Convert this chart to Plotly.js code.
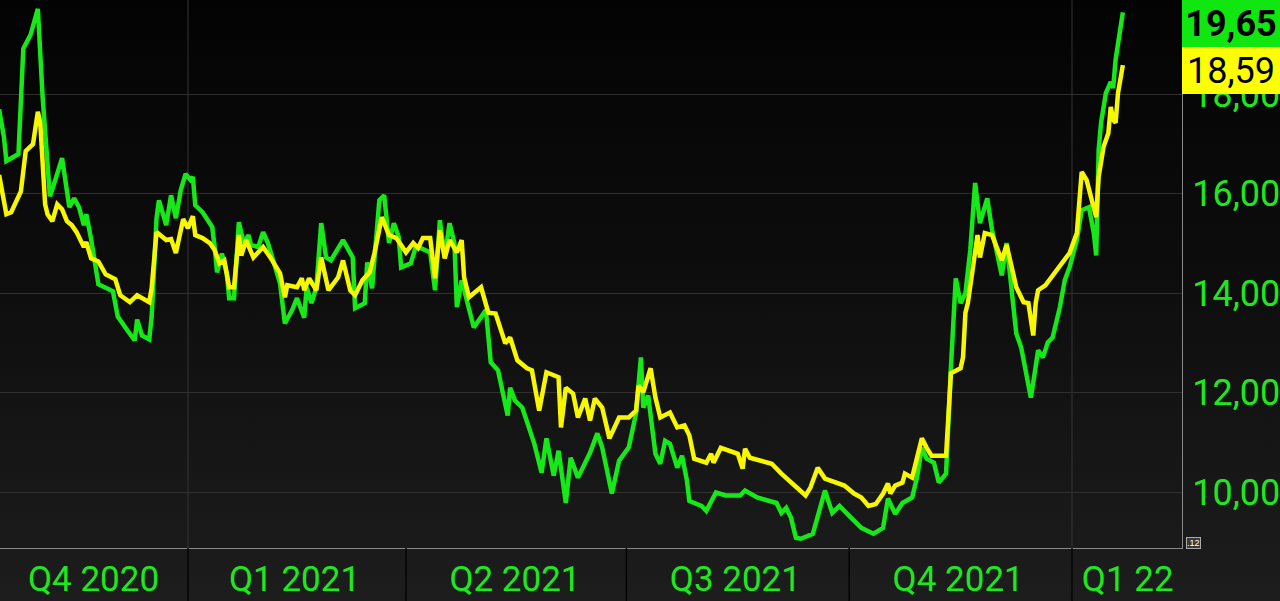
<!DOCTYPE html>
<html>
<head>
<meta charset="utf-8">
<script src="https://cdn.plot.ly/plotly-3.0.1.min.js"></script>
<style>
  html, body { margin: 0; padding: 0; }
  body { width: 1280px; height: 601px; overflow: hidden;
         background: linear-gradient(to bottom, #030303 0%, #0d0d0d 45%, #1d1d1d 100%); }
  #chart { width: 1280px; height: 601px; }
</style>
</head>
<body>
<div id="chart"></div>
<script>
// ---- Data ----
const greenDates = [
  '2020-10-15','2020-10-17','2020-10-18','2020-10-23','2020-10-25','2020-10-28','2020-10-31',
  '2020-11-02','2020-11-05','2020-11-06','2020-11-10','2020-11-12','2020-11-13','2020-11-15','2020-11-17','2020-11-19','2020-11-20','2020-11-22','2020-11-25',
  '2020-12-01','2020-12-03','2020-12-07','2020-12-10','2020-12-11','2020-12-13','2020-12-16','2020-12-17','2020-12-19','2020-12-20','2020-12-23','2020-12-25','2020-12-27','2020-12-29','2020-12-31',
  '2021-01-02','2021-01-03','2021-01-04','2021-01-07','2021-01-11','2021-01-12','2021-01-13','2021-01-15','2021-01-17','2021-01-18','2021-01-20','2021-01-22','2021-01-24','2021-01-26','2021-01-27','2021-01-30',
  '2021-02-01','2021-02-03','2021-02-06','2021-02-08','2021-02-10','2021-02-13','2021-02-15','2021-02-18','2021-02-19','2021-02-21','2021-02-23','2021-02-25','2021-02-27',
  '2021-03-01','2021-03-06','2021-03-08','2021-03-10','2021-03-11','2021-03-15','2021-03-16','2021-03-18','2021-03-21','2021-03-23','2021-03-25','2021-03-27','2021-03-29','2021-03-30',
  '2021-04-03','2021-04-05','2021-04-07','2021-04-11','2021-04-13','2021-04-15','2021-04-17','2021-04-19','2021-04-21','2021-04-22','2021-04-24','2021-04-29',
  '2021-05-04','2021-05-06','2021-05-09','2021-05-13','2021-05-14','2021-05-16','2021-05-19','2021-05-24','2021-05-27','2021-05-29',
  '2021-06-01','2021-06-03','2021-06-06','2021-06-08','2021-06-11','2021-06-16','2021-06-19','2021-06-21','2021-06-25','2021-06-28',
  '2021-07-02','2021-07-05','2021-07-07','2021-07-08','2021-07-10','2021-07-12','2021-07-13','2021-07-15','2021-07-17','2021-07-19','2021-07-22','2021-07-24','2021-07-26','2021-07-27',
  '2021-08-01','2021-08-03','2021-08-07','2021-08-11','2021-08-17','2021-08-19','2021-08-24',
  '2021-09-01','2021-09-03','2021-09-05','2021-09-07','2021-09-09','2021-09-11','2021-09-16','2021-09-19','2021-09-21','2021-09-24','2021-09-27',
  '2021-10-01','2021-10-03','2021-10-06','2021-10-11','2021-10-15','2021-10-17','2021-10-20','2021-10-23','2021-10-27','2021-10-29','2021-10-31',
  '2021-11-02','2021-11-05','2021-11-07','2021-11-10','2021-11-12','2021-11-14','2021-11-16','2021-11-18','2021-11-20','2021-11-22','2021-11-24','2021-11-27','2021-11-29',
  '2021-12-03','2021-12-05','2021-12-09','2021-12-11','2021-12-13','2021-12-15','2021-12-16','2021-12-18','2021-12-20','2021-12-22','2021-12-24','2021-12-27','2021-12-29','2021-12-31',
  '2022-01-03','2022-01-05','2022-01-08','2022-01-10','2022-01-11','2022-01-12','2022-01-13','2022-01-15','2022-01-17','2022-01-18','2022-01-19','2022-01-22'
];
const greenValues = [
  17.70,17.14,16.66,16.80,18.92,19.20,19.72,
  17.93,15.95,16.09,16.72,15.95,15.73,15.91,15.73,15.37,15.59,15.09,14.18,
  14.04,13.53,13.25,13.05,13.47,13.15,13.07,13.53,15.51,15.87,15.37,15.97,15.51,16.07,16.40,
  16.28,16.34,15.77,15.63,15.33,14.93,14.42,14.80,14.40,13.90,13.90,15.43,15.01,15.17,14.97,14.93,
  15.23,15.01,14.56,14.20,13.39,13.66,13.90,13.51,14.12,13.80,14.12,15.41,14.72,
  14.66,15.07,14.87,14.72,13.70,13.80,14.62,14.10,15.87,15.97,15.01,15.41,15.13,14.52,
  14.60,14.93,14.91,14.82,14.06,15.47,14.72,15.41,15.01,13.72,14.26,13.31,
  13.66,12.61,12.45,11.54,12.10,11.84,11.70,10.97,10.39,11.08,
  10.33,10.83,9.78,10.69,10.29,10.79,11.18,10.90,9.97,10.63,
  10.90,11.58,12.71,11.70,11.94,11.03,10.77,10.57,11.03,10.97,10.49,10.73,10.23,9.82,
  9.72,9.62,9.99,9.93,9.93,10.03,9.89,
  9.78,9.58,9.68,9.48,9.08,9.06,9.16,9.68,10.03,9.58,9.72,
  9.52,9.42,9.28,9.16,9.28,9.87,9.56,9.78,9.89,10.29,10.89,
  10.67,10.59,10.19,10.37,12.51,14.30,13.80,14.00,14.87,16.22,15.41,15.91,15.27,
  14.36,15.01,13.19,12.91,12.39,11.90,12.20,12.85,12.71,13.01,13.11,13.72,14.26,14.52,
  15.07,15.67,15.73,15.21,14.76,16.88,17.43,18.03,18.25,18.13,18.70,19.65
];
const yellowDates = [
  '2020-10-15','2020-10-16','2020-10-18','2020-10-20','2020-10-24','2020-10-26','2020-10-29','2020-10-31',
  '2020-11-01','2020-11-03','2020-11-04','2020-11-06','2020-11-08','2020-11-10','2020-11-12','2020-11-14','2020-11-16','2020-11-19','2020-11-20','2020-11-22','2020-11-25','2020-11-28','2020-11-30',
  '2020-12-02','2020-12-04','2020-12-08','2020-12-11','2020-12-13','2020-12-16','2020-12-17','2020-12-19','2020-12-23','2020-12-25','2020-12-27','2020-12-30',
  '2021-01-01','2021-01-03','2021-01-04','2021-01-07','2021-01-10','2021-01-12','2021-01-14','2021-01-16','2021-01-18','2021-01-20','2021-01-22','2021-01-23','2021-01-25','2021-01-28',
  '2021-02-01','2021-02-04','2021-02-08','2021-02-10','2021-02-11','2021-02-15','2021-02-17','2021-02-18','2021-02-20','2021-02-23','2021-02-25','2021-02-28',
  '2021-03-04','2021-03-06','2021-03-09','2021-03-11','2021-03-14','2021-03-17','2021-03-19','2021-03-22','2021-03-25','2021-03-28','2021-03-30',
  '2021-04-01','2021-04-04','2021-04-06','2021-04-08','2021-04-11','2021-04-13','2021-04-15','2021-04-17','2021-04-19','2021-04-22','2021-04-24','2021-04-25','2021-04-27',
  '2021-05-02','2021-05-05','2021-05-08','2021-05-12','2021-05-14','2021-05-17','2021-05-21','2021-05-23','2021-05-26','2021-05-29',
  '2021-06-03','2021-06-04','2021-06-06','2021-06-09','2021-06-11','2021-06-14','2021-06-16','2021-06-18','2021-06-21','2021-06-24','2021-06-28',
  '2021-07-02','2021-07-05','2021-07-06','2021-07-08','2021-07-11','2021-07-13','2021-07-15','2021-07-19','2021-07-22','2021-07-25','2021-07-27','2021-07-29',
  '2021-08-03','2021-08-05','2021-08-06','2021-08-09','2021-08-16','2021-08-18','2021-08-19','2021-08-21','2021-08-30',
  '2021-09-03','2021-09-09','2021-09-13','2021-09-15','2021-09-18','2021-09-21','2021-09-29',
  '2021-10-03','2021-10-06','2021-10-09','2021-10-12','2021-10-15','2021-10-17','2021-10-18','2021-10-20','2021-10-23','2021-10-24','2021-10-27','2021-10-29','2021-10-31',
  '2021-11-02','2021-11-04','2021-11-10','2021-11-12','2021-11-16','2021-11-17','2021-11-18','2021-11-19','2021-11-23','2021-11-24','2021-11-26','2021-11-29',
  '2021-12-03','2021-12-05','2021-12-09','2021-12-12','2021-12-14','2021-12-16','2021-12-17','2021-12-18','2021-12-21','2021-12-25','2021-12-28','2021-12-31',
  '2022-01-03','2022-01-05','2022-01-07','2022-01-09','2022-01-11','2022-01-12','2022-01-14','2022-01-16','2022-01-17','2022-01-18','2022-01-19','2022-01-20','2022-01-22'
];
const yellowValues = [
  16.38,16.09,15.59,15.63,16.05,16.86,17.00,17.65,
  17.43,15.79,15.59,15.45,15.79,15.69,15.45,15.37,15.23,14.93,15.03,14.70,14.64,14.38,14.32,
  14.28,13.96,13.82,13.96,13.90,13.82,14.10,15.23,15.07,15.09,14.81,15.49,
  15.31,15.55,15.17,15.11,15.01,14.87,14.60,14.66,14.12,14.12,15.17,14.76,15.07,14.72,
  14.93,14.72,14.40,13.92,14.16,14.12,14.30,14.06,14.30,14.06,14.72,14.06,
  14.32,14.66,14.06,13.96,14.26,14.42,14.81,15.53,15.17,15.11,14.97,
  14.82,15.01,14.91,15.11,15.11,14.30,15.27,14.70,15.07,14.82,15.07,14.32,13.92,
  14.12,13.61,13.59,12.99,13.11,12.65,12.49,12.45,11.64,12.41,
  12.31,11.30,12.10,11.98,11.50,11.88,11.44,11.88,11.70,11.08,11.50,
  11.50,11.64,12.14,12.01,12.49,11.90,11.50,11.60,11.30,11.34,11.14,10.67,
  10.59,10.77,10.59,10.89,10.77,10.47,10.87,10.69,10.57,
  10.37,10.09,9.93,10.09,10.49,10.27,10.13,
  9.97,9.89,9.72,9.76,9.97,10.17,9.97,10.13,10.19,10.37,10.29,10.69,11.08,
  10.89,10.73,10.73,12.39,12.49,12.71,13.61,13.80,15.17,14.72,15.21,15.17,
  14.66,14.97,14.12,13.82,13.80,13.15,13.80,14.06,14.16,14.42,14.60,14.81,
  15.21,16.44,16.28,15.87,15.53,16.34,16.94,17.22,17.75,17.49,17.43,18.03,18.59
];
const quarterLabels = ['Q4 2020','Q1 2021','Q2 2021','Q3 2021','Q4 2021','Q1 22'];
const quarterLabelDates = ['2020-11-23','2021-02-14','2021-05-16','2021-08-15','2021-11-15','2022-01-24'];
const quarterStarts = ['2021-01-01','2021-04-01','2021-07-01','2021-10-01','2022-01-01'];
const yearStarts = ['2021-01-01','2022-01-01'];
const yTicks = [10, 12, 14, 16, 18];

// ---- Styling ----
const GREEN = '#17e817';
const YELLOW = '#f7f700';
const LABEL_GREEN = '#1ee81e';
const FONT = 'Roboto, "Open Sans", Arial, sans-serif';

const fmt = v => v.toFixed(2).replace('.', ',');

const traces = [
  { x: greenDates, y: greenValues, type: 'scatter', mode: 'lines',
    line: { color: GREEN, width: 4.5, shape: 'linear' }, hoverinfo: 'skip' },
  { x: yellowDates, y: yellowValues, type: 'scatter', mode: 'lines',
    line: { color: YELLOW, width: 4.5, shape: 'linear' }, hoverinfo: 'skip' }
];

const shapes = [];
yearStarts.forEach(d => shapes.push({
  type: 'line', xref: 'x', yref: 'paper', x0: d, x1: d, y0: 0, y1: 1,
  line: { color: '#353535', width: 1 }, layer: 'below'
}));
quarterStarts.forEach(d => shapes.push({
  type: 'line', xref: 'x', yref: 'paper', x0: d, x1: d, y0: 0, y1: -0.12,
  line: { color: '#050505', width: 1.5 }
}));

const lastG = greenValues[greenValues.length - 1];
const lastY = yellowValues[yellowValues.length - 1];

const annotations = [
  { xref: 'paper', yref: 'paper', x: 1, y: 1, xanchor: 'left', yanchor: 'top',
    text: fmt(lastG), showarrow: false, bgcolor: '#10e610', width: 98, height: 47,
    borderpad: 0, borderwidth: 0, align: 'center',
    font: { family: FONT, size: 36, color: '#000000', weight: 'bold' } },
  { xref: 'paper', yref: 'paper', x: 1, y: 1 - 47/548, xanchor: 'left', yanchor: 'top',
    text: fmt(lastY), showarrow: false, bgcolor: '#ffff00', width: 98, height: 47,
    borderpad: 0, borderwidth: 0, align: 'center',
    font: { family: FONT, size: 36, color: '#000000' } },
  { xref: 'paper', yref: 'paper', x: 1, y: 0, xanchor: 'left', yanchor: 'middle',
    xshift: 4, yshift: 5, text: '.12', showarrow: false, bgcolor: '#3a3a3a',
    bordercolor: '#aaaaaa', borderwidth: 1, borderpad: 0,
    font: { family: 'Arial', size: 9, color: '#ffffff' } }
];

const layout = {
  width: 1280, height: 601,
  margin: { l: 0, r: 98, t: 0, b: 53, pad: 0 },
  paper_bgcolor: 'rgba(0,0,0,0)',
  plot_bgcolor: 'rgba(0,0,0,0)',
  separators: ',.',
  showlegend: false,
  xaxis: {
    type: 'date',
    range: ['2020-10-15 09:00', '2022-02-15 10:00'],
    showgrid: false, zeroline: false,
    showline: true, linecolor: '#8a8a8a', linewidth: 1,
    tickmode: 'array', tickvals: quarterLabelDates, ticktext: quarterLabels,
    ticks: '', ticklabelstandoff: 0,
    tickfont: { family: FONT, size: 35, color: LABEL_GREEN }
  },
  yaxis: {
    side: 'right',
    range: [8.874, 19.90],
    tickmode: 'array', tickvals: yTicks, tickformat: '.2f',
    showgrid: true, gridcolor: '#303030', gridwidth: 1,
    zeroline: false,
    showline: true, linecolor: '#8a8a8a', linewidth: 1,
    ticks: '', ticklabelstandoff: 2,
    tickfont: { family: FONT, size: 36, color: LABEL_GREEN }
  },
  shapes: shapes,
  annotations: annotations
};

Plotly.newPlot('chart', traces, layout, { staticPlot: true, displayModeBar: false });
</script>
</body>
</html>
